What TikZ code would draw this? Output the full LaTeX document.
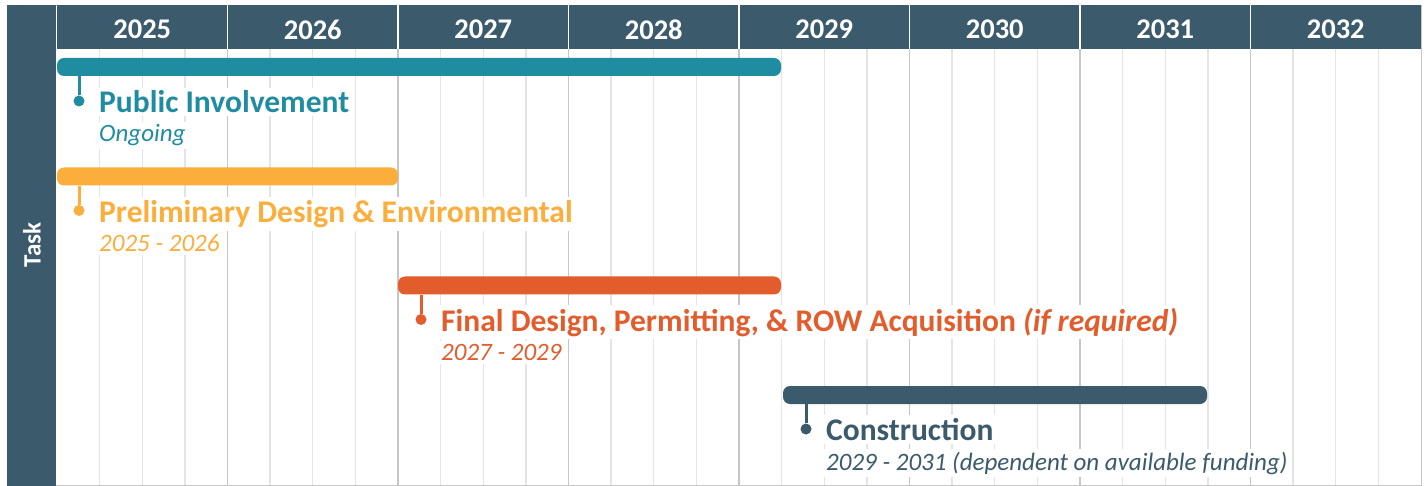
\documentclass[tikz,border=0pt]{standalone}
\usepackage{fontspec}
\setmainfont{Carlito}
\usepackage{tikz}
\usetikzlibrary{positioning,calc}
\definecolor{hdrslate}{HTML}{3B5A6B}
\definecolor{pubteal}{HTML}{1F8CA2}
\definecolor{prelimgold}{HTML}{FBAE3C}
\definecolor{finalrust}{HTML}{E25C2C}
\definecolor{qgray}{HTML}{E4E4E4}
\definecolor{ygray}{HTML}{C6C6C6}
\tikzstyle{bar}    = [rectangle, rounded corners=7pt, minimum height=18pt, inner sep=0pt]
\tikzstyle{dot}    = [circle, minimum size=11pt, inner sep=0pt]
\tikzstyle{stem}   = [line width=3pt]
\tikzstyle{title}  = [anchor=base west, fill=white, inner sep=3pt, font=\fontsize{31.5}{31.5}\selectfont\bfseries]
\tikzstyle{sub}    = [anchor=base west, fill=white, inner sep=3pt, font=\fontsize{25}{25}\selectfont\itshape]
\tikzstyle{year}   = [text=white, font=\fontsize{28.5}{28.5}\selectfont\bfseries]
\tikzstyle{qline}  = [qgray, line width=1.4pt]
\tikzstyle{yline}  = [ygray, line width=1.6pt]

\begin{document}
\begin{tikzpicture}[x=1pt, y=-1pt]
        \useasboundingbox (0,0) rectangle (1427,486);

        % grid
        \foreach \k in {1,...,31} {
            \pgfmathsetmacro\gx{57+\k*42.625}
            \draw[qline] (\gx,49) -- (\gx,486);
        }
        \foreach \k in {4,8,...,28} {
            \pgfmathsetmacro\gx{57+\k*42.625}
            \draw[yline] (\gx,49) -- (\gx,486);
        }
        \draw[ygray, line width=0.8pt] (7,5) rectangle (1421.5,485.6);

        % side bar and header
        \fill[hdrslate] (7,5) rectangle (56,486);
        \node[rotate=90, text=white, font=\fontsize{25}{25}\selectfont\bfseries] (task) at (32,245) {Task};
        \fill[hdrslate] (57,5) rectangle (1421,49);
        \foreach \y [count=\i from 0] in {2025,...,2032} {
            \node[year] (y\y) at (142.25+\i*170.5,29.5) {\y};
        }
        \foreach \k in {1,...,7} {
            \draw[white, line width=1.5pt] (57+\k*170.5,5) -- (57+\k*170.5,49);
        }

        % public involvement
        \node[bar, fill=pubteal, minimum width=724pt] (pubbar) at (419,67) {};
        \node[dot, fill=pubteal] (pubdot) at (79,101) {};
        \draw[stem, pubteal] (pubdot) -- (pubdot |- pubbar.south);
        \node[title, text=pubteal] (pubtitle) at (96,113) {Public Involvement};
        \node[sub, text=pubteal] (pubsub) at (96,142) {Ongoing};

        % preliminary design
        \node[bar, fill=prelimgold, minimum width=341pt] (prebar) at (227.5,176.5) {};
        \node[dot, fill=prelimgold] (predot) at (79,210.5) {};
        \draw[stem, prelimgold] (predot) -- (predot |- prebar.south);
        \node[title, text=prelimgold] (pretitle) at (96,222.5) {Preliminary Design \& Environmental};
        \node[sub, text=prelimgold] (presub) at (96,251.5) {2025 - 2026};

        % final design
        \node[bar, fill=finalrust, minimum width=383pt] (finbar) at (589.5,285.5) {};
        \node[dot, fill=finalrust] (findot) at (421,319.5) {};
        \draw[stem, finalrust] (findot) -- (findot |- finbar.south);
        \node[title, text=finalrust] (fintitle) at (438,331) {Final Design, Permitting, \& ROW Acquisition \textit{(if required)}};
        \node[sub, text=finalrust] (finsub) at (438,360.5) {2027 - 2029};

        % construction
        \node[bar, fill=hdrslate, minimum width=424pt] (conbar) at (995,395) {};
        \node[dot, fill=hdrslate] (condot) at (806,429) {};
        \draw[stem, hdrslate] (condot) -- (condot |- conbar.south);
        \node[title, text=hdrslate] (contitle) at (823,440.5) {Construction};
        \node[sub, text=hdrslate] (consub) at (823,470) {2029 - 2031 (dependent on available funding)};
    \end{tikzpicture}
\end{document}
